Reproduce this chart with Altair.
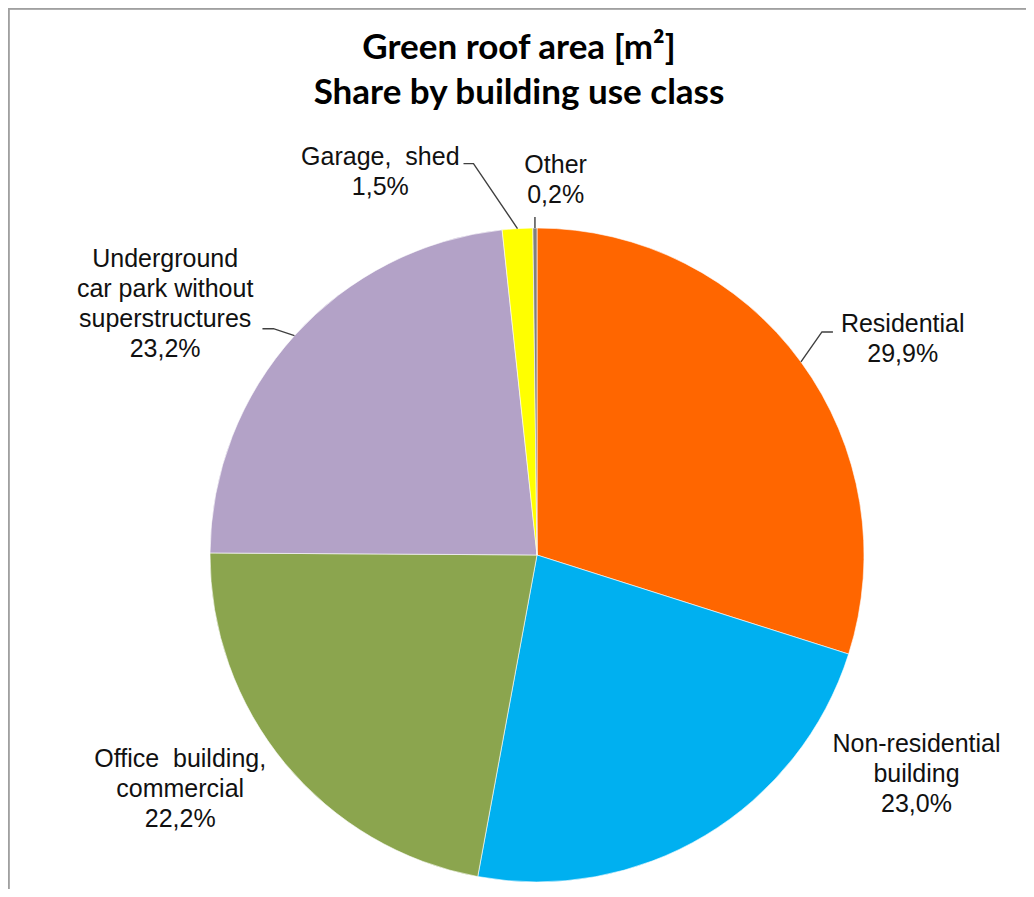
import math
import altair as alt
import pandas as pd

# ---- data ----
categories = ["Residential", "Non-residential building", "Office building, commercial",
              "Underground car park without superstructures", "Garage, shed", "Other"]
shares = [29.9, 23.0, 22.2, 23.2, 1.5, 0.2]
label_lines = [
    ["Residential"],
    ["Non-residential", "building"],
    ["Office\u00a0 building,", "commercial"],
    ["Underground", "car park without", "superstructures"],
    ["Garage,\u00a0 shed"],
    ["Other"],
]
colors = ["#FF6600", "#00B0F0", "#8BA54E", "#B3A2C7", "#FFFF00", "#7F7F7F"]
title_lines = ["Green roof area [m\u00b2]", "Share by building use class"]

# ---- layout ----
W, H = 1018, 881
CX, CY = 529, 547
R = 327
R_LABEL = 380
label_nudge = {  # dx, dy of each label block from its polar anchor
    "Residential": (59, 1),
    "Non-residential building": (184, -129),
    "Office building, commercial": (-64, -30),
    "Underground car park without superstructures": (-90, -33),
    "Garage, shed": (-134, -11),
    "Other": (21, -2),
}
leader_bends = {  # leader polyline points relative to the slice edge point
    "Residential": [(21, -30), (32, -30)],
    "Underground car park without superstructures": [(-21, -7), (-32, -7)],
    "Garage, shed": [(-44, -65), (-54, -65)],
    "Other": [(0, -11)],
}

# ---- tables ----
def pct(v):
    return f"{v:.1f}".replace(".", ",") + "%"

cum = 0.0
mids = []
for v in shares:
    mids.append(cum + v / 2)
    cum += v

df = pd.DataFrame({
    "name": categories,
    "share": shares,
    "idx": list(range(len(categories))),
    "mid": mids,
    "label": ["\n".join(lines + [pct(v)]) for lines, v in zip(label_lines, shares)],
})

def polar(frac, r):
    a = 2 * math.pi * frac / 100.0
    return CX + r * math.sin(a), CY - r * math.cos(a)

rows = []
for name, m in zip(categories, mids):
    if name not in leader_bends:
        continue
    sx, sy = polar(m, R)
    rows.append({"name": name, "seq": 0, "x": sx, "y": sy})
    for k, (ox, oy) in enumerate(leader_bends[name]):
        rows.append({"name": name, "seq": k + 1, "x": sx + ox, "y": sy + oy})
leaders = pd.DataFrame(rows)

theta_scale = alt.Scale(domain=[0, 100])

pie = alt.Chart(df).mark_arc(radius=R, stroke="white", strokeWidth=0.6).encode(
    theta=alt.Theta("share:Q", stack=True, scale=theta_scale),
    color=alt.Color("name:N", scale=alt.Scale(domain=categories, range=colors), legend=None),
    order=alt.Order("idx:Q"),
    x=alt.value(CX),
    y=alt.value(CY),
)

label_layers = []
for name in categories:
    dx, dy = label_nudge[name]
    label_layers.append(
        alt.Chart(df).transform_filter(alt.datum.name == name).mark_text(
            radius=R_LABEL, dx=dx, dy=dy, align="center", baseline="alphabetic",
            font="Liberation Sans", fontSize=25, lineBreak="\n", lineHeight=30,
            color="#111111",
        ).encode(
            theta=alt.Theta("mid:Q", scale=theta_scale),
            text="label:N",
            x=alt.value(CX),
            y=alt.value(CY),
        )
    )

lines = alt.Chart(leaders).mark_line(color="#404040", strokeWidth=1.4).encode(
    x=alt.X("x:Q", scale=alt.Scale(domain=[0, W], range=[0, W]), axis=None),
    y=alt.Y("y:Q", scale=alt.Scale(domain=[0, H], range=[0, H]), axis=None),
    detail="name:N",
    order="seq:Q",
)

title = alt.Chart(pd.DataFrame({"t": ["\n".join(title_lines)]})).mark_text(
    font="Lato", fontWeight="bold", fontSize=35, lineBreak="\n", lineHeight=45,
    align="center", baseline="alphabetic", color="#000000",
).encode(text="t:N", x=alt.value(511), y=alt.value(51))

border_top = alt.Chart(df).mark_rule(color="#A0A0A0", strokeWidth=1.5).encode(
    x=alt.value(0), x2=alt.value(W), y=alt.value(0.5))
border_left = alt.Chart(df).mark_rule(color="#A0A0A0", strokeWidth=1.5).encode(
    x=alt.value(0.5), y=alt.value(0), y2=alt.value(H))

chart = alt.layer(pie, lines, *label_layers, title, border_top, border_left).properties(
    width=W, height=H, padding=0, background="white",
    autosize=alt.AutoSizeParams(type="none"),
).configure_view(stroke=None)

chart.save("out.html", embed_options={"renderer": "svg", "actions": False})
